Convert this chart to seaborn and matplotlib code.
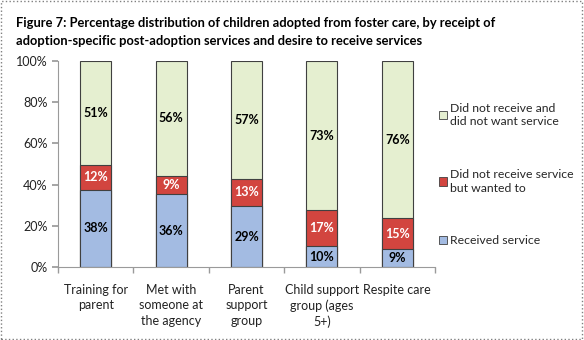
import matplotlib
matplotlib.use("Agg")
import matplotlib.pyplot as plt
import seaborn as sns
import pandas as pd
from matplotlib.patches import Rectangle, Patch
from matplotlib.ticker import FixedLocator, PercentFormatter

categories = ["Training for\nparent", "Met with\nsomeone at\nthe agency", "Parent\nsupport\ngroup",
              "Child support\ngroup (ages\n5+)", "Respite care"]
received = [37.5, 35.4, 29.6, 10.0, 8.7]
wanted = [12.0, 8.9, 13.3, 17.5, 14.9]
not_wanted = [50.5, 55.7, 57.1, 72.5, 76.4]
received_lbl = ["38%", "36%", "29%", "10%", "9%"]
wanted_lbl = ["12%", "9%", "13%", "17%", "15%"]
not_wanted_lbl = ["51%", "56%", "57%", "73%", "76%"]
series_names = ["Received service", "Did not receive service\nbut wanted to",
                "Did not receive and\ndid not want service"]
colors = ["#A3BBE2", "#D2453F", "#E5EFD0"]

sns.set_theme(style="white")
plt.rcParams['font.family'] = ['Lato', 'DejaVu Sans']

df = pd.DataFrame({"cat": categories, "r": received, "w": wanted, "n": not_wanted})
df["rw"] = df["r"] + df["w"]
df["all"] = df["rw"] + df["n"]

fig = plt.figure(figsize=(5.84, 3.4), dpi=100)
ax = fig.add_axes([58/584, 1-267/340, (435-58)/584, (267-61)/340])

edge = "#404040"
sns.barplot(data=df, x="cat", y="all", color=colors[2], width=0.41, ax=ax,
            edgecolor=edge, linewidth=0.8, saturation=1)
sns.barplot(data=df, x="cat", y="rw", color=colors[1], width=0.41, ax=ax,
            edgecolor=edge, linewidth=0.8, saturation=1)
sns.barplot(data=df, x="cat", y="r", color=colors[0], width=0.41, ax=ax,
            edgecolor=edge, linewidth=0.8, saturation=1)

for i in range(len(categories)):
    ax.text(i, received[i] / 2, received_lbl[i], ha="center", va="center",
            fontsize=9, fontweight="bold", color="black")
    ax.text(i, received[i] + wanted[i] / 2, wanted_lbl[i], ha="center", va="center",
            fontsize=9, fontweight="bold", color="white")
    ax.text(i, received[i] + wanted[i] + not_wanted[i] / 2, not_wanted_lbl[i], ha="center",
            va="center", fontsize=9, fontweight="bold", color="black")

ax.set_xlim(-0.5, len(categories) - 0.5)
ax.set_ylim(0, 100)
ax.set_yticks([0, 20, 40, 60, 80, 100])
ax.yaxis.set_major_formatter(PercentFormatter(decimals=0))
ax.set_xlabel("")
ax.set_ylabel("")
for s in ["top", "right"]:
    ax.spines[s].set_visible(False)
for s in ["left", "bottom"]:
    ax.spines[s].set_color("#9A9A9A")
    ax.spines[s].set_linewidth(0.8)
ax.xaxis.set_minor_locator(FixedLocator([i + 0.5 for i in range(-1, len(categories))]))
ax.tick_params(axis="x", which="major", length=0, labelsize=9, pad=12, colors="#222222")
ax.tick_params(axis="x", which="minor", length=4, color="#9A9A9A", direction="out", bottom=True)
ax.tick_params(axis="y", which="major", length=4, color="#9A9A9A", direction="out", left=True,
               labelsize=9, labelcolor="#222222")
for lbl in ax.get_xticklabels():
    lbl.set_linespacing(1.35)

handles = [Patch(facecolor=colors[k], edgecolor=edge, linewidth=0.6) for k in [2, 1, 0]]
labels = [series_names[k] for k in [2, 1, 0]]
leg = ax.legend(handles, labels, loc="center left", bbox_to_anchor=(0.99, 0.45), frameon=False,
                fontsize=8.8, handlelength=0.7, handleheight=0.7, handletextpad=0.25,
                labelspacing=3.4, borderaxespad=0.2)
for t in leg.get_texts():
    t.set_linespacing(1.3)

fig.text(16/584, 1-17/340, "Figure 7: Percentage distribution of children adopted from foster care, by receipt of\n"
         "adoption-specific post-adoption services and desire to receive services",
         ha="left", va="top", fontsize=9.3, fontweight="bold", linespacing=1.6, color="black")

fig.patches.append(Rectangle((0.002, 0.003), 0.995, 0.993, transform=fig.transFigure, fill=False,
                             edgecolor="#808080", linestyle=":", linewidth=1))

fig.savefig("out.png", dpi=100)
